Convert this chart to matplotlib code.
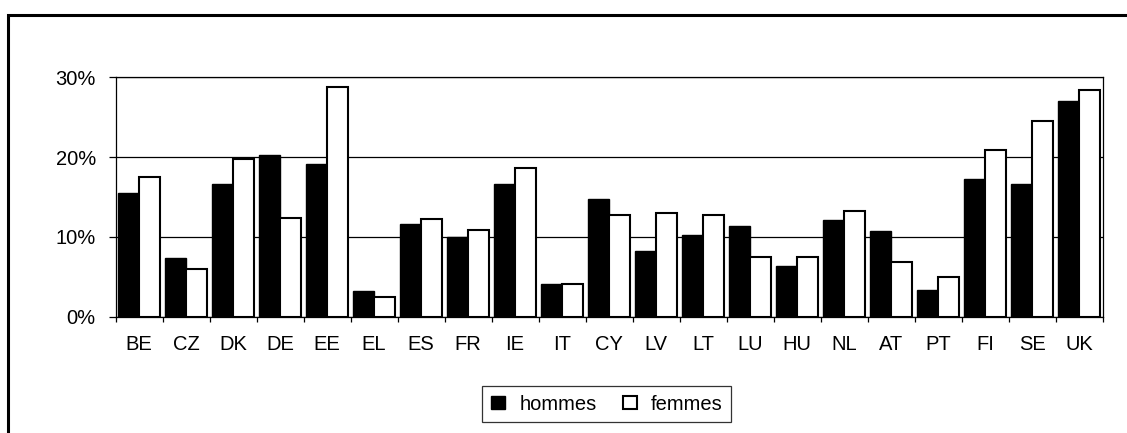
import numpy as np
import matplotlib.pyplot as plt
from matplotlib.patches import Rectangle

plt.rcParams['font.family'] = ['Liberation Sans', 'DejaVu Sans']

pays = ["BE", "CZ", "DK", "DE", "EE", "EL", "ES", "FR", "IE", "IT", "CY",
        "LV", "LT", "LU", "HU", "NL", "AT", "PT", "FI", "SE", "UK"]
hommes = [15.5, 7.3, 16.6, 20.2, 19.1, 3.2, 11.6, 10.0, 16.6, 4.1, 14.8,
          8.2, 10.3, 11.4, 6.4, 12.1, 10.7, 3.4, 17.3, 16.6, 27.0]
femmes = [17.5, 6.0, 19.8, 12.4, 28.8, 2.5, 12.3, 10.9, 18.6, 4.1, 12.7,
          13.0, 12.7, 7.5, 7.5, 13.2, 6.8, 5.0, 20.9, 24.5, 28.4]
yticks = [0, 10, 20, 30]

fs = 14.5

fig = plt.figure(figsize=(11.27, 4.33), dpi=100)
ax = fig.add_axes([0.1025, 0.2686, 0.8758, 0.5529])

x = np.arange(len(pays))
w = 0.45
ax.bar(x - w / 2, hommes, w, color="black", edgecolor="black", linewidth=1.0,
       label="hommes", zorder=3)
ax.bar(x + w / 2, femmes, w, color="white", edgecolor="black", linewidth=1.5,
       label="femmes", zorder=3)

ax.set_xlim(-0.5, len(pays) - 0.5)
ax.set_ylim(0, 30)
ax.set_yticks(yticks)
ax.set_yticklabels([f"{v}%" for v in yticks], fontsize=fs)
ax.yaxis.grid(True, color="black", linewidth=0.9)
ax.set_axisbelow(True)

ax.set_xticks(x)
ax.set_xticklabels(pays, fontsize=fs)
ax.set_xticks(np.arange(len(pays) + 1) - 0.5, minor=True)
ax.tick_params(axis="x", which="major", length=0, pad=13.5)
ax.tick_params(axis="x", which="minor", length=3.6, width=0.9, direction="out")
ax.tick_params(axis="y", length=5.2, width=0.9, pad=9)

for s in ax.spines.values():
    s.set_linewidth(0.9)
    s.set_color("black")

leg = ax.legend(loc="center", bbox_to_anchor=(0.4977, -0.3647), ncol=2,
                fontsize=fs, frameon=True, fancybox=False, edgecolor="black",
                handlelength=0.72, handleheight=0.65, handletextpad=0.7,
                columnspacing=1.3, borderpad=0.42, borderaxespad=0)
leg.get_frame().set_linewidth(0.9)

# cadre extérieur
fig.patches.append(Rectangle((8 / 1127, -0.1), 1.2, 1.1 - 15 / 433,
                             transform=fig.transFigure, fill=False,
                             edgecolor="black", linewidth=2.2))

fig.savefig("out.png", dpi=100)
